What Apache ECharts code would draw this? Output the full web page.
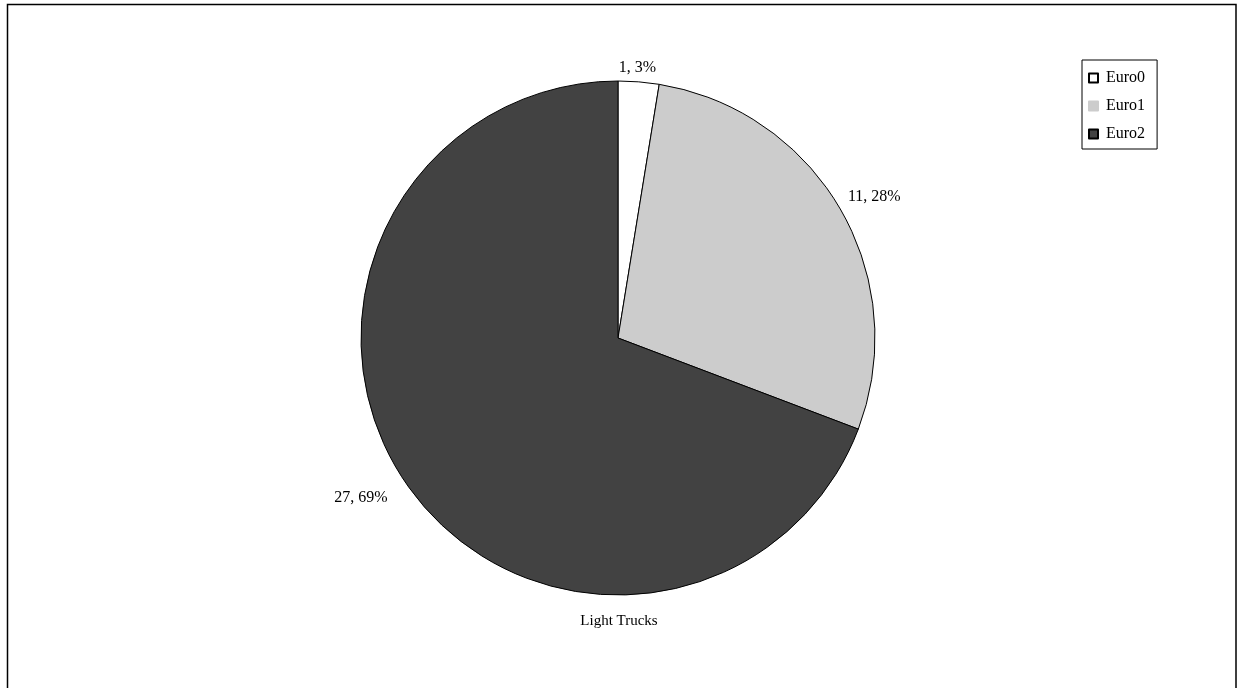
<!DOCTYPE html>
<html>
<head>
<meta charset="utf-8">
<script src="https://cdn.jsdelivr.net/npm/echarts@6/dist/echarts.min.js"></script>
<style>
html,body{margin:0;padding:0;background:#fff;}
#c{width:1238px;height:688px;}
</style>
</head>
<body>
<div id="c"></div>
<script>
var categories = ['Euro0', 'Euro1', 'Euro2'];
var values = [1, 11, 27];
var colors = ['#ffffff', '#cccccc', '#424242'];
var titleText = 'Light Trucks';

var chart = echarts.init(document.getElementById('c'), null, {renderer: 'canvas'});
var font = '"Liberation Serif", "Times New Roman", serif';
var total = values.reduce(function(a, b){ return a + b; }, 0);
// small nudges so labels sit where the reference places them (centred-ish over the slice)
var labelNudge = [[-26, -2], [-8, -7], [-4, 7]];

chart.setOption({
  animation: false,
  backgroundColor: '#ffffff',
  title: {
    text: titleText,
    left: 'center',
    top: 609,
    textStyle: {fontFamily: font, fontSize: 15, fontWeight: 'normal', color: '#000'}
  },
  graphic: [{
    type: 'rect',
    shape: {x: 7.5, y: 4.5, width: 1228.5, height: 690},
    style: {fill: 'none', stroke: '#000', lineWidth: 1.5},
    silent: true
  }],
  legend: {
    orient: 'vertical',
    left: 1082,
    top: 60,
    padding: [10, 12, 7, 6],
    itemGap: 12,
    itemWidth: 9,
    itemHeight: 9,
    icon: 'rect',
    borderColor: '#000',
    borderWidth: 1,
    data: categories.map(function(c, i){
      return i === 1 ? {name: c, itemStyle: {borderColor: colors[i]}} : {name: c};
    }),
    textStyle: {fontFamily: font, fontSize: 16, color: '#000', padding: [0, 0, 0, 3]}
  },
  series: [{
    type: 'pie',
    center: [618, 338],
    radius: [0, 257],
    startAngle: 90,
    clockwise: true,
    data: categories.map(function(c, i){
      return {name: c, value: values[i], itemStyle: {color: colors[i]}};
    }),
    itemStyle: {borderColor: '#000', borderWidth: 1},
    label: {
      show: true,
      position: 'outside',
      fontFamily: font,
      fontSize: 16,
      color: '#000',
      formatter: function(p){ return p.value + ', ' + Math.round(p.value / total * 100) + '%'; }
    },
    labelLine: {show: false, length: 12, length2: 0},
    labelLayout: function(p){
      var n = labelNudge[p.dataIndex];
      return {dx: n[0], dy: n[1]};
    },
    emphasis: {disabled: true}
  }]
});
</script>
</body>
</html>
